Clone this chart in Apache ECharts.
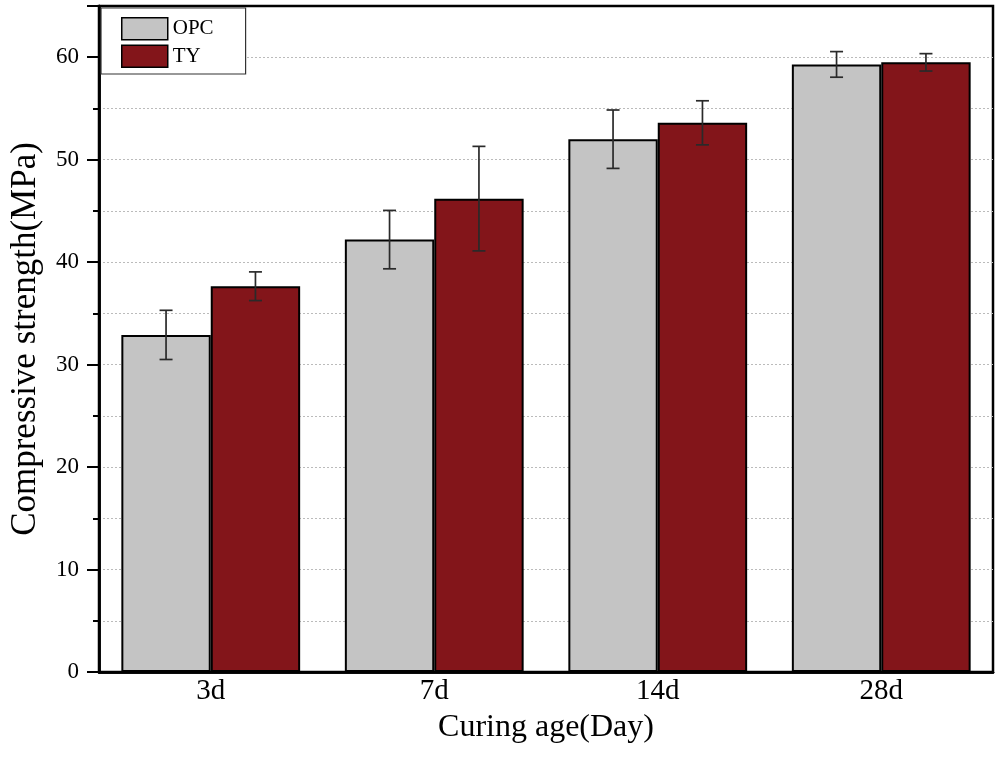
<!DOCTYPE html>
<html>
<head>
<meta charset="utf-8">
<script src="https://cdn.jsdelivr.net/npm/echarts@6/dist/echarts.min.js"></script>
<style>html,body{margin:0;padding:0;background:#fff;}#c{width:1000px;height:760px;}</style>
</head>
<body>
<div id="c"></div>
<script>
var categories = ['3d', '7d', '14d', '28d'];
var opcValues = [32.9, 42.2, 52.0, 59.3];
var opcErrors = [2.4, 2.85, 2.85, 1.25];
var tyValues = [37.65, 46.2, 53.6, 59.5];
var tyErrors = [1.4, 5.1, 2.15, 0.85];
var yLabelValues = [0, 10, 20, 30, 40, 50, 60];

var FONT = "'Liberation Serif', 'Times New Roman', serif";

function errData(vals, errs) {
  return vals.map(function (v, i) { return [i, v - errs[i], v + errs[i]]; });
}
function makeErrRender(offsetFrac) {
  return function (params, api) {
    var idx = api.value(0);
    var lowP = api.coord([idx, api.value(1)]);
    var highP = api.coord([idx, api.value(2)]);
    var band = api.size([1, 0])[0];
    var x = lowP[0] + offsetFrac * band;
    var hw = 6.5;
    var st = { stroke: '#2a2a2a', lineWidth: 1.7 };
    return {
      type: 'group',
      children: [
        { type: 'line', shape: { x1: x, y1: highP[1], x2: x, y2: lowP[1] }, style: st },
        { type: 'line', shape: { x1: x - hw, y1: highP[1], x2: x + hw, y2: highP[1] }, style: st },
        { type: 'line', shape: { x1: x - hw, y1: lowP[1], x2: x + hw, y2: lowP[1] }, style: st }
      ]
    };
  };
}

var chart = echarts.init(document.getElementById('c'));
chart.setOption({
  backgroundColor: '#fff',
  animation: false,
  grid: { left: 98, right: 7, top: 6, bottom: 88, show: true, borderColor: '#000', borderWidth: 2.5, backgroundColor: 'transparent' },
  legend: {
    data: ['OPC', 'TY'],
    orient: 'vertical',
    left: 101, top: 8,
    padding: [9, 32, 6, 20],
    itemWidth: 46, itemHeight: 22, itemGap: 4,
    icon: 'rect',
    backgroundColor: '#fff',
    borderColor: '#333', borderWidth: 1.2,
    textStyle: { fontFamily: FONT, fontSize: 21, color: '#000' },
    itemStyle: { borderColor: '#000', borderWidth: 1.5 }
  },
  xAxis: [{
    type: 'category',
    data: categories,
    name: 'Curing age(Day)',
    nameLocation: 'middle',
    nameGap: 40,
    nameTextStyle: { fontFamily: FONT, fontSize: 32, color: '#000' },
    axisLine: { lineStyle: { color: '#000', width: 2.5 } },
    axisTick: { show: false },
    axisLabel: { fontFamily: FONT, fontSize: 29, color: '#000', margin: 5 },
    splitLine: { show: false }
  }, {
    type: 'category',
    data: categories,
    position: 'top',
    axisLine: { show: true, lineStyle: { color: '#000', width: 2.5 } },
    axisTick: { show: false },
    axisLabel: { show: false },
    splitLine: { show: false }
  }],
  yAxis: [{
    type: 'value',
    min: 0, max: 65, interval: 5,
    name: 'Compressive strength(MPa)',
    nameLocation: 'middle',
    nameGap: 56,
    nameTextStyle: { fontFamily: FONT, fontSize: 35, color: '#000' },
    axisLine: { show: true, lineStyle: { color: '#000', width: 2.5 } },
    axisTick: { show: true, length: 6, lineStyle: { color: '#000', width: 2 } },
    axisLabel: { fontFamily: FONT, fontSize: 23, color: '#000', margin: 20, customValues: yLabelValues },
    splitLine: { show: true, showMaxLine: false, showMinLine: false, lineStyle: { color: '#bbb', type: [2, 2], width: 1 } }
  }, {
    type: 'value',
    min: 0, max: 65, interval: 10,
    position: 'left', offset: 0,
    axisLine: { show: true, lineStyle: { color: '#000', width: 2.5 } },
    axisTick: { show: true, length: 12, lineStyle: { color: '#000', width: 2 } },
    axisLabel: { show: false },
    splitLine: { show: false }
  }],
  series: [
    {
      name: 'OPC', type: 'bar', data: opcValues,
      barGap: '0%', barCategoryGap: '20%',
      itemStyle: { color: '#c4c4c4', borderColor: '#000', borderWidth: 2 }
    },
    {
      name: 'TY', type: 'bar', data: tyValues,
      barGap: '0%', barCategoryGap: '20%',
      itemStyle: { color: '#83151a', borderColor: '#000', borderWidth: 2 }
    },
    {
      type: 'custom', name: 'OPC err', data: errData(opcValues, opcErrors),
      xAxisIndex: 1, yAxisIndex: 1,
      renderItem: makeErrRender(-0.2), z: 10, encode: { x: 0, y: [1, 2] }
    },
    {
      type: 'custom', name: 'TY err', data: errData(tyValues, tyErrors),
      xAxisIndex: 1, yAxisIndex: 1,
      renderItem: makeErrRender(0.2), z: 10, encode: { x: 0, y: [1, 2] }
    }
  ]
});
</script>
</body>
</html>
